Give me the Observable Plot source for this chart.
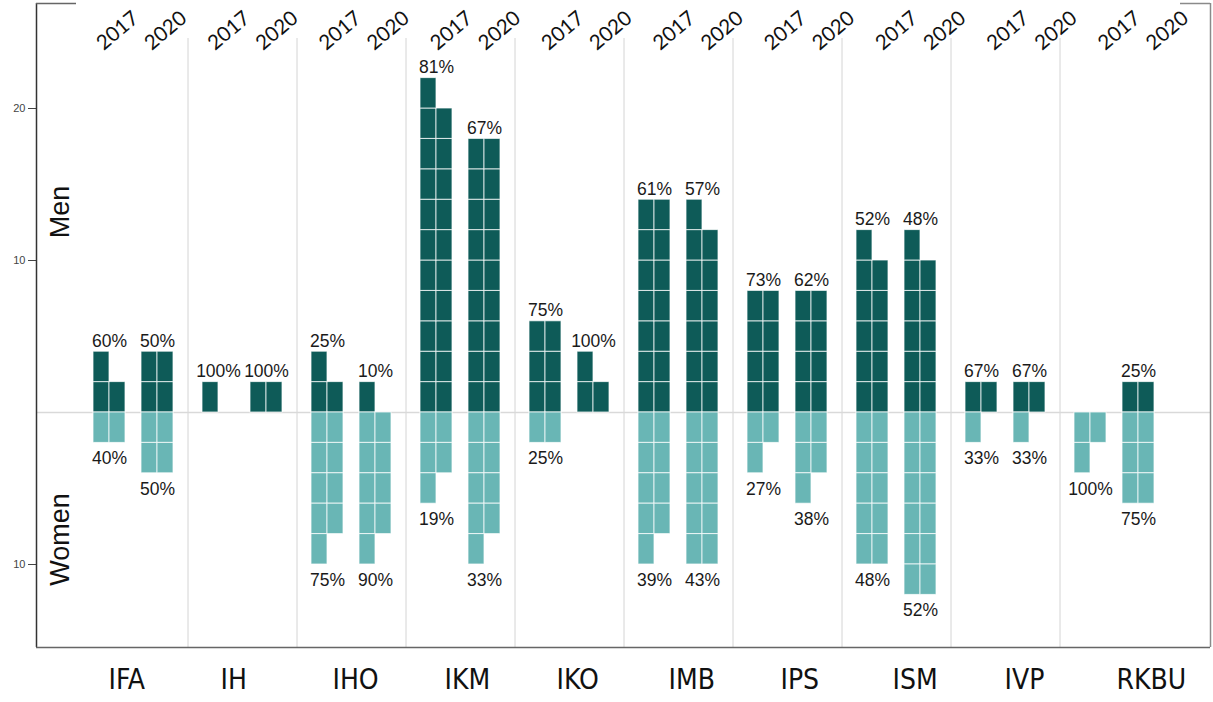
<!DOCTYPE html>
<html><head><meta charset="utf-8">
<script src="https://cdn.jsdelivr.net/npm/d3@7"></script>
<script src="https://cdn.jsdelivr.net/npm/@observablehq/plot@0.6"></script>
<style>body{margin:0;background:#fff}</style>
</head><body><div id="chart"></div>
<script>
// ---- data ----
const departments = ["IFA","IH","IHO","IKM","IKO","IMB","IPS","ISM","IVP","RKBU"];
const years = ["2017","2020"];
const men2017   = [3, 1, 3, 21, 6, 14, 8, 11, 2, 0];
const women2017 = [2, 0, 9, 5, 2, 9, 3, 10, 1, 3];
const men2020   = [4, 2, 1, 18, 3, 13, 8, 11, 2, 2];
const women2020 = [4, 0, 9, 9, 0, 10, 5, 12, 1, 6];
const yTicks = [20, 10, -10];
const sexLabels = ["Men", "Women"];

// ---- layout (column units: one square column = 1 unit) ----
const unitPx = 16;
const S = 109 / unitPx;          // department step
const pad = (S - 5) / 2;         // space between separator and first column
const xmin = -57 / unitPx, xmax = 1117 / unitPx;
const ymin = -235 / 15.2, ymax = 409 / 15.2;
const sepTop = 374 / 15.2;
const MEN = "#0e5b58", WOMEN = "#69b6b5";

const cells = [], pctLabels = [], yearLabels = [], deptLabels = [];
departments.forEach((d, i) => {
  years.forEach((yr, j) => {
    const m = j ? men2020[i] : men2017[i];
    const w = j ? women2020[i] : women2017[i];
    const x0 = i * S + j * 3;
    for (let k = 0; k < m; k++) {
      const c = k % 2, r = Math.floor(k / 2);
      cells.push({sex: "Men", x1: x0 + c, x2: x0 + c + 1, y1: 2 * r, y2: 2 * r + 2});
    }
    for (let k = 0; k < w; k++) {
      const c = k % 2, r = Math.floor(k / 2);
      cells.push({sex: "Women", x1: x0 + c, x2: x0 + c + 1, y1: -2 * r, y2: -2 * r - 2});
    }
    const tot = m + w;
    if (m > 0) pctLabels.push({sex: "Men", x: x0 + 1, y: 2 * Math.ceil(m / 2), text: Math.round(m / tot * 100) + "%"});
    if (w > 0) pctLabels.push({sex: "Women", x: x0 + 1, y: -2 * Math.ceil(w / 2), text: Math.round(w / tot * 100) + "%"});
    yearLabels.push({x: x0 + 1 + (3 + 2.3 * i) / unitPx, text: yr});
  });
  deptLabels.push({x: i * S + (15 + 3 * i) / unitPx, text: d});
});
const separators = departments.slice(1).map((d, i) => (i + 1) * S - pad);

const narrow = "'Liberation Sans Narrow','Arial Narrow','DejaVu Sans Condensed',sans-serif";
const plot = Plot.plot({
  width: 1213, height: 702,
  marginLeft: 36, marginRight: 3, marginTop: 3, marginBottom: 55,
  style: {fontFamily: "'Liberation Sans', Arial, sans-serif", fontSize: "11px", background: "white", overflow: "visible"},
  x: {domain: [xmin, xmax], axis: null},
  y: {domain: [ymin, ymax], axis: null},
  color: {domain: sexLabels, range: [MEN, WOMEN]},
  marks: [
    Plot.ruleX(separators, {y1: sepTop, y2: ymin, stroke: "#d4d4d4", strokeWidth: 1}),
    Plot.ruleY([0], {x1: xmin, x2: xmax, stroke: "#d9d9d9", strokeWidth: 1.5}),
    Plot.rect(cells, {x1: "x1", x2: "x2", y1: "y1", y2: "y2", fill: "sex", stroke: "white", strokeWidth: 1, strokeOpacity: 0.75}),
    Plot.text(pctLabels.filter(d => d.sex === "Men"), {x: "x", y: "y", text: "text", lineAnchor: "bottom", dy: -5, fontSize: 17.5, fill: "#1a1a1a"}),
    Plot.text(pctLabels.filter(d => d.sex === "Women"), {x: "x", y: "y", text: "text", lineAnchor: "top", dy: 9, fontSize: 17.5, fill: "#1a1a1a"}),
    Plot.text(yearLabels, {x: "x", frameAnchor: "top", dy: 21, text: "text", rotate: -40, fontSize: 20.5, fontFamily: "Lato, 'Liberation Sans', sans-serif", fill: "#111"}),
    Plot.text(deptLabels, {x: "x", frameAnchor: "bottom", dy: 41, text: "text", textAnchor: "start", fontSize: 28, fontFamily: narrow, fill: "#111"}),
    Plot.text(sexLabels, {x: xmin, y: d => d === "Men" ? ymax * 0.49 : ymin * 0.54, text: d => d, rotate: -90, dx: 24, fontSize: 27, fill: "#111"}),
    Plot.axisY({ticks: yTicks, tickFormat: d => Math.abs(d), tickSize: 8, tickPadding: 3, fontSize: 11, label: null, color: "#444"}),
    Plot.ruleX([xmin], {y1: ymin, y2: ymax, stroke: "#333", strokeWidth: 1.5}),
    Plot.ruleX([xmax], {y1: ymin, y2: ymax, stroke: "#8a8a8a", strokeWidth: 1.5}),
    Plot.ruleY([ymin], {x1: xmin, x2: xmax, stroke: "#666", strokeWidth: 1.5}),
    Plot.ruleY([ymax], {x1: xmin, x2: xmin + 40 / unitPx, stroke: "#666", strokeWidth: 1.5}),
    Plot.ruleY([ymax], {x1: xmax - 30 / unitPx, x2: xmax, stroke: "#8a8a8a", strokeWidth: 1.5})
  ]
});
document.getElementById("chart").appendChild(plot);
</script>
</body></html>
